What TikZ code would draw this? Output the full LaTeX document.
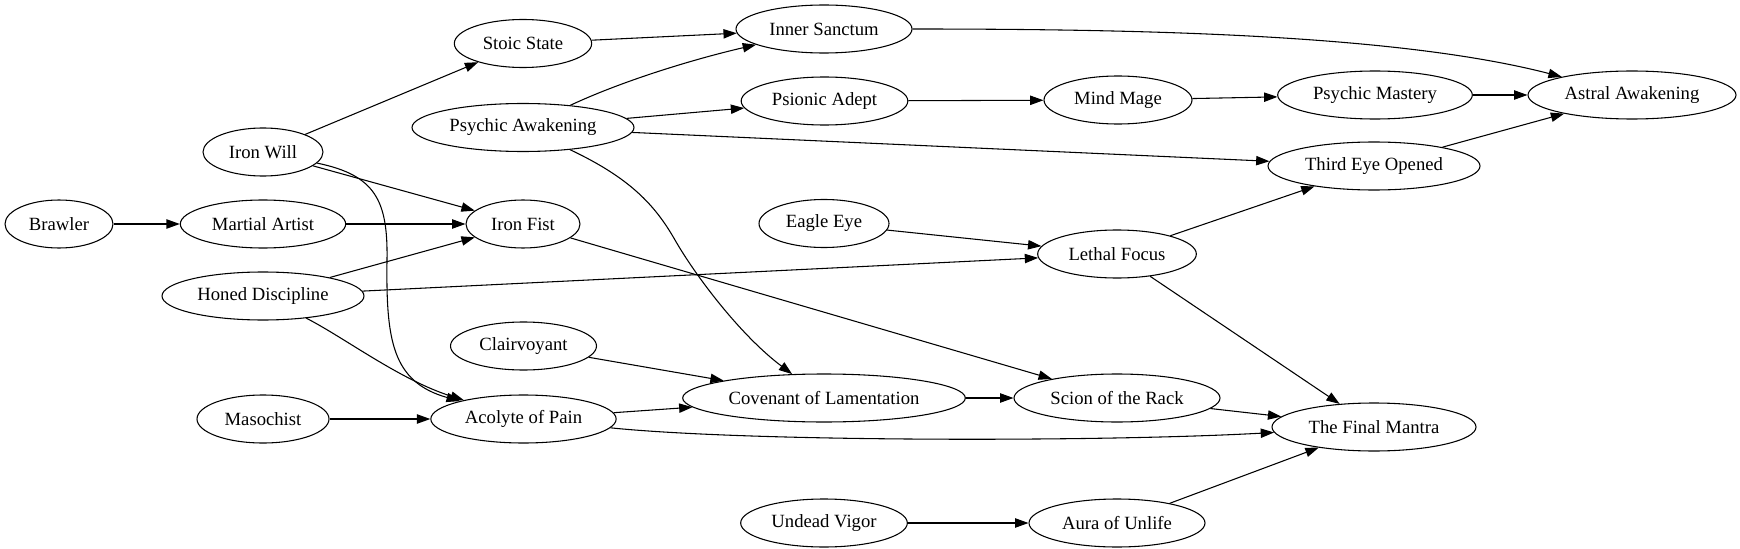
\documentclass[tikz,border=0pt]{standalone}
\usepackage{fontspec}
\setmainfont{Liberation Serif}
\newfontfamily\gvfont{Liberation Serif}
\usetikzlibrary{shapes.geometric,arrows.meta}
\tikzset{
  nd/.style={draw, ellipse, inner sep=0pt, minimum height=36pt, line width=0.8pt,
    font=\gvfont\fontsize{14pt}{16pt}\selectfont},
  e/.style={draw, line width=0.8pt, -{Triangle[length=10pt,width=7pt]}}
}
\begin{document}
\begin{tikzpicture}[x=0.75pt,y=-0.75pt]
\useasboundingbox (0,0) rectangle (1740,549);
% rank 1
\node[nd, minimum width=81pt] (brawler) at (59,224) {Brawler};
% rank 2
\node[nd, minimum width=90pt] (ironwill) at (263,152) {Iron Will};
\node[nd, minimum width=124pt] (martial) at (263,224) {Martial Artist};
\node[nd, minimum width=151.5pt] (honed) at (263,296) {Honed Discipline};
\node[nd, minimum width=99pt] (masochist) at (263,419) {Masochist};
% rank 3
\node[nd, minimum width=103pt] (stoic) at (523,43.5) {Stoic State};
\node[nd, minimum width=166.5pt] (psyawake) at (523,127.5) {Psychic Awakening};
\node[nd, minimum width=85.5pt] (ironfist) at (523,224) {Iron Fist};
\node[nd, minimum width=109.5pt] (clair) at (523.5,346) {Clairvoyant};
\node[nd, minimum width=139pt] (acolyte) at (523.5,419) {Acolyte of Pain};
% rank 4
\node[nd, minimum width=132pt] (inner) at (824,29) {Inner Sanctum};
\node[nd, minimum width=125pt] (psionic) at (824.5,101) {Psionic Adept};
\node[nd, minimum width=97.5pt] (eagle) at (824,223.5) {Eagle Eye};
\node[nd, minimum width=212pt] (covenant) at (824,398) {Covenant of Lamentation};
\node[nd, minimum width=125pt] (undead) at (824,523) {Undead Vigor};
% rank 5
\node[nd, minimum width=111pt] (mindmage) at (1118,100) {Mind Mage};
\node[nd, minimum width=119pt] (lethal) at (1117,254) {Lethal Focus};
\node[nd, minimum width=154.5pt] (scion) at (1117,398) {Scion of the Rack};
\node[nd, minimum width=132pt] (aura) at (1117,523) {Aura of Unlife};
% rank 6
\node[nd, minimum width=146pt] (psymastery) at (1375,95) {Psychic Mastery};
\node[nd, minimum width=159pt] (thirdeye) at (1374,166) {Third Eye Opened};
\node[nd, minimum width=153pt] (final) at (1374,427) {The Final Mantra};
% rank 7
\node[nd, minimum width=156pt] (astral) at (1632,95) {Astral Awakening};

% edges
\draw[e] (brawler) -- (martial);
\draw[e] (martial) -- (ironfist);
\draw[e] (ironwill) -- (stoic);
\draw[e] (ironwill) -- (ironfist);
\draw[e] (ironwill) .. controls (375,175) and (388,200) .. (387,260)
   .. controls (386,340) and (392,382) .. (acolyte);
\draw[e] (honed) -- (ironfist);
\draw[e] (honed) -- (lethal);
\draw[e] (honed) .. controls (345,338) and (400,380) .. (acolyte);
\draw[e] (masochist) -- (acolyte);
\draw[e] (stoic) -- (inner);
\draw[e] (psyawake) .. controls (620,82) and (690,60) .. (inner);
\draw[e] (psyawake) -- (psionic);
\draw[e] (psyawake) -- (thirdeye);
\draw[e] (psyawake) .. controls (630,178) and (655,205) .. (675,240)
   .. controls (695,275) and (740,335) .. (covenant);
\draw[e] (ironfist) -- (scion);
\draw[e] (clair) -- (covenant);
\draw[e] (acolyte) -- (covenant);
\draw[e] (acolyte) .. controls (750,442) and (1100,442) .. (final);
\draw[e] (inner) .. controls (1150,29) and (1400,35) .. (astral);
\draw[e] (psionic) -- (mindmage);
\draw[e] (eagle) -- (lethal);
\draw[e] (covenant) -- (scion);
\draw[e] (undead) -- (aura);
\draw[e] (mindmage) -- (psymastery);
\draw[e] (lethal) -- (thirdeye);
\draw[e] (lethal) -- (final);
\draw[e] (scion) -- (final);
\draw[e] (aura) -- (final);
\draw[e] (psymastery) -- (astral);
\draw[e] (thirdeye) -- (astral);
\end{tikzpicture}
\end{document}
